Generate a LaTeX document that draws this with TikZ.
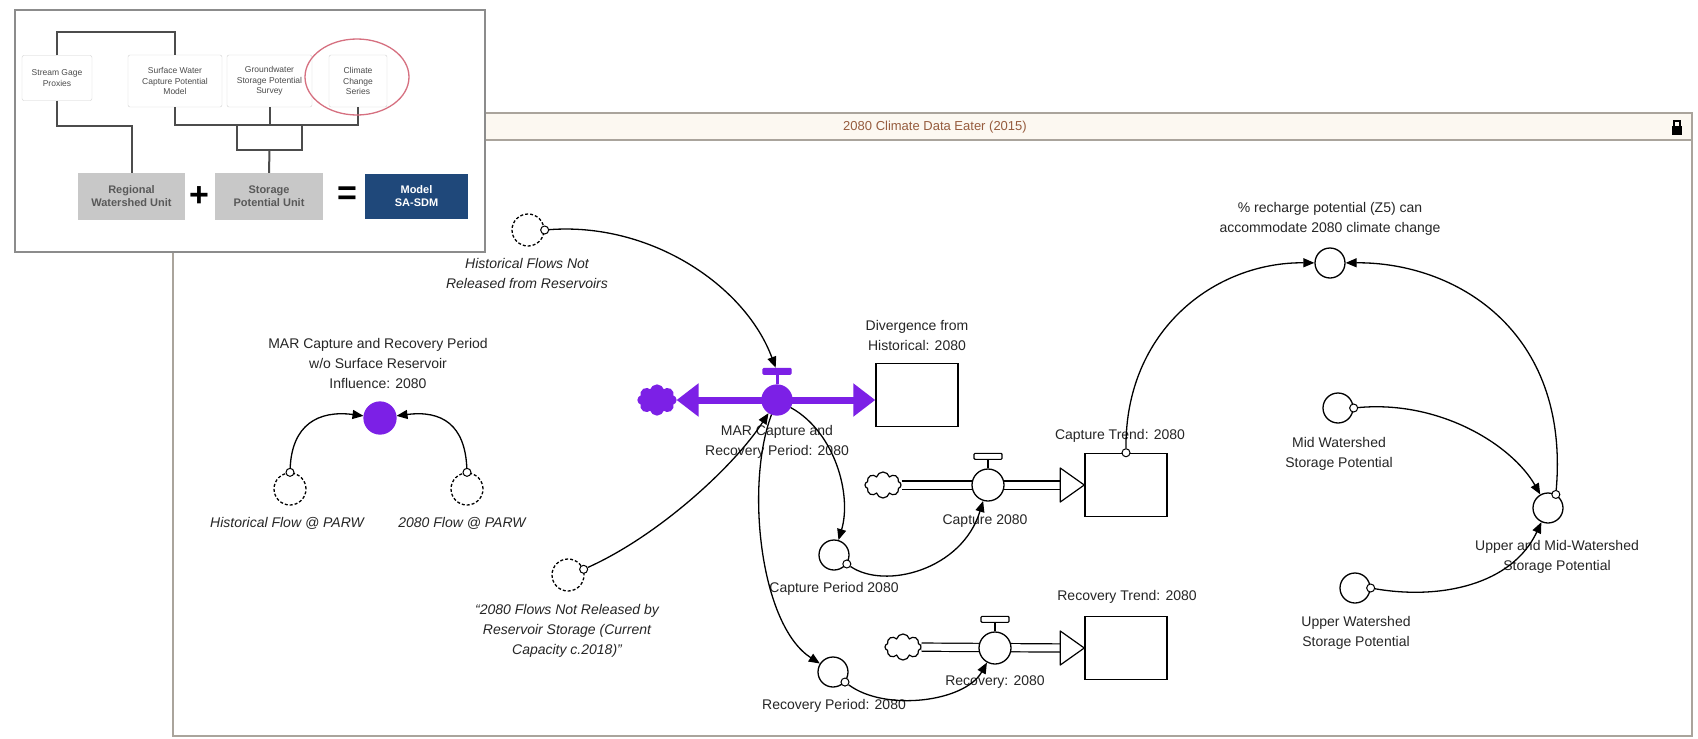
\documentclass[tikz,border=0pt]{standalone}
\usepackage{fontspec}
\setmainfont{Liberation Sans}
\usetikzlibrary{arrows.meta,shapes.symbols}

\definecolor{marpurple}{RGB}{124,32,230}
\definecolor{framegray}{RGB}{170,164,156}
\definecolor{barcream}{RGB}{252,248,241}
\definecolor{titlebrown}{RGB}{150,92,62}
\definecolor{boxgray}{RGB}{200,200,200}
\definecolor{modelblue}{RGB}{31,72,122}
\definecolor{ringred}{RGB}{214,112,128}

\newcommand{\lblfont}{\fontsize{14}{20}\selectfont}
\newcommand{\titlefont}{\fontsize{13}{15}\selectfont}
\newcommand{\boxfont}{\fontsize{8.5}{10.5}\selectfont}
\newcommand{\unitfont}{\fontsize{11}{13}\selectfont\bfseries}
\newcommand{\signfont}{\fontsize{34}{34}\selectfont\bfseries}

\tikzset{
  conv/.style={circle, draw, fill=white, minimum size=30pt, inner sep=0pt, line width=1.3pt},
  ghost/.style={conv, densely dashed, minimum size=32pt},
  dot/.style={circle, draw, fill=white, minimum size=8pt, inner sep=0pt, line width=1pt},
  valve/.style={conv, minimum size=32pt},
  valvebar/.style={rectangle, draw, fill=white, minimum width=28pt, minimum height=6pt, inner sep=0pt, line width=1.2pt, rounded corners=1pt},
  stockbox/.style={rectangle, draw, fill=white, line width=1.5pt, minimum width=82pt, minimum height=63pt},
  source/.style={cloud, cloud puffs=8, aspect=1.3, draw, fill=white, line width=1.2pt, minimum width=36pt, minimum height=26pt, inner sep=0pt},
  lbl/.style={align=center, font=\lblfont, text=black!85, inner sep=0pt},
  itlbl/.style={lbl, font=\lblfont\itshape},
  link/.style={line width=1.3pt, -{Triangle[length=11pt,width=9pt]}},
  pipe/.style={double, double distance=7pt, line width=1.2pt},
  head/.style={draw, fill=white, line width=1.2pt, line join=round},
  srcbox/.style={rectangle, draw=black!18, rounded corners=2pt, align=center, font=\boxfont, text=black!70, inner sep=1pt},
  unitbox/.style={rectangle, fill=boxgray, align=center, font=\unitfont, text=black!65, inner sep=0pt},
  tree/.style={draw=black!70, line width=2pt}
}

\begin{document}
\begin{tikzpicture}[x=1pt, y=-1pt]
    \useasboundingbox (0,0) rectangle (1698,739);

    % Draw panel
    \draw[framegray, line width=2pt, fill=white] (173,113) rectangle (1692,736);
    \fill[barcream] (174,114) rectangle (1691,139);
    \draw[framegray, line width=2pt] (173,140) -- (1692,140);
    \node[text=titlebrown, font=\titlefont] (title) at (935,127) {2080 Climate Data Eater (2015)};
    \fill (1672,126) rectangle (1682,135);
    \draw[line width=1.2pt] (1674,127) -- (1674,121) -- (1680,121) -- (1680,127);

    % Draw nodes
    \node[ghost] (g1) at (528,230) {};
    \node[dot] (d1) at (g1.east) {};
    \node[itlbl] (l1) at (527,273) {Historical Flows Not\\Released from Reservoirs};

    \node[conv, fill=marpurple, draw=marpurple, minimum size=32pt] (mw) at (380,418) {};
    \node[lbl] (l2) at (378,363) {MAR Capture and Recovery Period\\w/o Surface Reservoir\\Influence: 2080};
    \node[ghost] (g2) at (290,489) {};
    \node[ghost] (g3) at (467,489) {};
    \node[dot] (d2) at (g2.north) {};
    \node[dot] (d3) at (g3.north) {};
    \node[itlbl] (l3) at (287,523) {Historical Flow @ PARW};
    \node[itlbl] (l4) at (462,523) {2080 Flow @ PARW};

    \node[ghost] (g4) at (568,575) {};
    \node[dot] (d4) at (g4.20) {};
    \node[itlbl] (l5) at (567,631) {“2080 Flows Not Released by\\Reservoir Storage (Current\\Capacity c.2018)”};

    % MAR flow
    \node[source, draw=marpurple, fill=marpurple, minimum width=38pt, minimum height=30pt] (pc) at (657,400) {};
    \node[stockbox] (s0) at (917,395) {};
    \draw[marpurple, line width=7pt, {Triangle[length=22pt,width=32pt]}-{Triangle[length=22pt,width=32pt]}] (pc.east) -- (pc.east -| s0.west);
    \node[valve, fill=marpurple, draw=marpurple, minimum size=30pt] (mv) at (777,400) {};
    \draw[marpurple, line width=3pt] (mv.north) -- ++(0,-12);
    \node[valvebar, fill=marpurple, draw=marpurple] (mvt) at ([yshift=13pt]mv.north) {};
    \node[lbl] (l6) at (917,335) {Divergence from\\Historical: 2080};
    \node[lbl] (l7) at (777,442) {MAR Capture and\\Recovery Period: 2080};

    % Capture flow
    \node[source] (cc) at (883,485) {};
    \node[stockbox] (ct) at (1126,485) {};
    \draw[pipe] (cc) -- ([xshift=-23pt]ct.west);
    \draw[head] (ct.west) -- ++(-24,-17) -- ++(0,34) -- cycle;
    \node[valve] (cv) at (988,485) {};
    \draw[line width=1.2pt] (cv.north) -- ++(0,-9);
    \node[valvebar] (cvt) at ([yshift=12pt]cv.north) {};
    \node[dot] (d5) at (ct.north) {};
    \node[lbl] (l8) at (1120,436) {Capture Trend: 2080};
    \node[lbl] (l9) at (985,521) {Capture 2080};

    % Recovery flow
    \node[source] (rcc) at (903,647) {};
    \node[stockbox] (rt) at (1126,648) {};
    \draw[pipe] (rcc) -- ([xshift=-23pt]rt.west);
    \draw[head] (rt.west) -- ++(-24,-17) -- ++(0,34) -- cycle;
    \node[valve] (rv) at (995,648) {};
    \draw[line width=1.2pt] (rv.north) -- ++(0,-9);
    \node[valvebar] (rvt) at ([yshift=12pt]rv.north) {};
    \node[lbl] (l11) at (1127,597) {Recovery Trend: 2080};
    \node[lbl] (l12) at (995,682) {Recovery: 2080};

    \node[conv] (cp) at (834,555) {};
    \node[dot] (d9) at (cp.-35) {};
    \node[lbl] (l10) at (834,589) {Capture Period 2080};
    \node[conv] (rp) at (833,672) {};
    \node[dot] (d10) at (rp.-40) {};
    \node[lbl] (l13) at (834,706) {Recovery Period: 2080};

    % Storage potential
    \node[conv] (pr) at (1330,263) {};
    \node[lbl] (l14) at (1330,219) {\% recharge potential (Z5) can\\accommodate 2080 climate change};
    \node[conv] (mid) at (1338,408) {};
    \node[dot] (d7) at (mid.east) {};
    \node[lbl] (l15) at (1339,454) {Mid Watershed\\Storage Potential};
    \node[conv] (um) at (1548,508) {};
    \node[dot] (d6) at (um.60) {};
    \node[lbl] (l16) at (1557,557) {Upper and Mid-Watershed\\Storage Potential};
    \node[conv] (uw) at (1355,588) {};
    \node[dot] (d8) at (uw.east) {};
    \node[lbl] (l17) at (1356,633) {Upper Watershed\\Storage Potential};

    % Draw edges
    \draw[link] (d1) .. controls (650,222) and (745,285) .. (mvt);
    \draw[link] (d2) .. controls (292,425) and (318,410) .. (mw);
    \draw[link] (d3) .. controls (465,425) and (442,410) .. (mw);
    \draw[link] (d4) .. controls (660,535) and (735,465) .. (mv);
    \draw[link] (mv) .. controls (835,432) and (852,495) .. (cp);
    \draw[link] (mv) .. controls (745,485) and (760,625) .. (rp);
    \draw[link] (d9) .. controls (885,590) and (962,570) .. (cv);
    \draw[link] (d10) .. controls (885,712) and (965,702) .. (rv);
    \draw[link] (d5) .. controls (1125,330) and (1215,262) .. (pr);
    \draw[link] (d6) .. controls (1570,330) and (1455,262) .. (pr);
    \draw[link] (d7) .. controls (1440,400) and (1512,445) .. (um);
    \draw[link] (d8) .. controls (1440,600) and (1512,585) .. (um);

    % Draw inset
    \draw[black!45, line width=1.5pt, fill=white] (15,10) rectangle (485,252);
    \node[srcbox, minimum width=70pt, minimum height=45pt] (b1) at (57,78) {Stream Gage\\Proxies};
    \node[srcbox, minimum width=94pt, minimum height=52pt] (b2) at (175,81) {Surface Water\\Capture Potential\\Model};
    \node[srcbox, minimum width=85pt, minimum height=52pt] (b3) at (269.5,81) {Groundwater\\Storage Potential\\Survey};
    \node[srcbox, minimum width=58pt, minimum height=52pt] (b4) at (358,81) {Climate\\Change\\Series};
    \node[unitbox, minimum width=107pt, minimum height=47pt] (rw) at (131.5,196.5) {Regional\\Watershed Unit};
    \node[unitbox, minimum width=108pt, minimum height=47pt] (sp) at (269,196.5) {Storage\\Potential Unit};
    \node[unitbox, fill=modelblue, text=white, minimum width=103pt, minimum height=45pt] (mo) at (416.5,196.5) {Model\\SA-SDM};
    \node[font=\signfont] (plus) at (199,197) {+};
    \node[font=\signfont] (eq) at (347,196) {=};

    \draw[tree] (b1.north) -- ++(0,-23) -| (b2.north);
    \draw[tree] (b1.south) -- ++(0,25) -| (rw.north);
    \draw[tree] (b2.south) -- ++(0,18) -| (b4.south);
    \draw[tree] (b3.south) -- ++(0,18);
    \draw[tree] (237,125) rectangle (302,150);
    \draw[tree] (269.5,150) -- (sp.north);
    \draw[ringred, line width=1.3pt] (357,77) ellipse [x radius=52, y radius=38];
\end{tikzpicture}
\end{document}
